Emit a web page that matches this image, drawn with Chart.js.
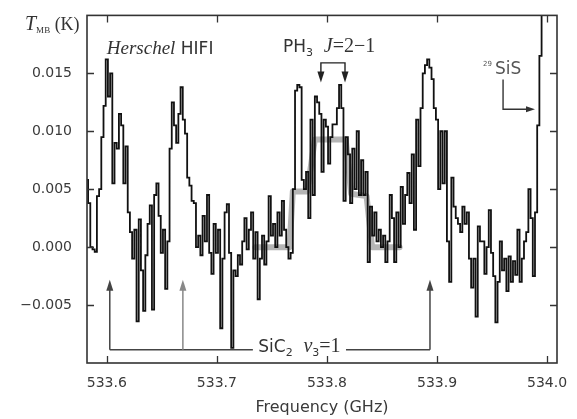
<!DOCTYPE html>
<html>
<head>
<meta charset="utf-8">
<script src="https://cdn.jsdelivr.net/npm/chart.js@4.4.1/dist/chart.umd.min.js"></script>
<style>
html, body { margin: 0; padding: 0; background: #fff; }
canvas { display: block; }
</style>
</head>
<body>
<canvas id="spec" width="577" height="419"></canvas>
<script>
// HIFI spectrum channels (GHz) and main-beam temperature (K)
const freqGHz = [
  533.582,533.584,533.586,533.588,533.590,533.592,533.594,533.596,533.598,533.600,
  533.602,533.604,533.606,533.608,533.610,533.612,533.614,533.616,533.618,533.620,
  533.622,533.624,533.626,533.628,533.630,533.632,533.634,533.636,533.638,533.640,
  533.642,533.644,533.646,533.648,533.650,533.652,533.654,533.656,533.658,533.660,
  533.662,533.664,533.666,533.668,533.670,533.672,533.674,533.676,533.678,533.680,
  533.682,533.684,533.686,533.688,533.690,533.692,533.694,533.696,533.698,533.700,
  533.702,533.704,533.706,533.708,533.710,533.712,533.714,533.716,533.718,533.720,
  533.722,533.724,533.726,533.728,533.730,533.732,533.734,533.736,533.738,533.740,
  533.742,533.744,533.746,533.748,533.750,533.752,533.754,533.756,533.758,533.760,
  533.762,533.764,533.766,533.768,533.770,533.772,533.774,533.776,533.778,533.780,
  533.782,533.784,533.786,533.788,533.790,533.792,533.794,533.796,533.798,533.800,
  533.802,533.804,533.806,533.808,533.810,533.812,533.814,533.816,533.818,533.820,
  533.822,533.824,533.826,533.828,533.830,533.832,533.834,533.836,533.838,533.840,
  533.842,533.844,533.846,533.848,533.850,533.852,533.854,533.856,533.858,533.860,
  533.862,533.864,533.866,533.868,533.870,533.872,533.874,533.876,533.878,533.880,
  533.882,533.884,533.886,533.888,533.890,533.892,533.894,533.896,533.898,533.900,
  533.902,533.904,533.906,533.908,533.910,533.912,533.914,533.916,533.918,533.920,
  533.922,533.924,533.926,533.928,533.930,533.932,533.934,533.936,533.938,533.940,
  533.942,533.944,533.946,533.948,533.950,533.952,533.954,533.956,533.958,533.960,
  533.962,533.964,533.966,533.968,533.970,533.972,533.974,533.976,533.978,533.980,
  533.982,533.984,533.986,533.988,533.990,533.992,533.994,533.996,533.998,534.000,
  534.002,534.004,534.006,534.008
];
const fluxK = [
  0.0058,0.0038,0.0000,-0.0002,-0.0004,0.0044,0.0050,0.0095,0.0122,0.0162,
  0.0130,0.0150,0.0055,0.0090,0.0085,0.0115,0.0105,0.0055,0.0087,0.0030,
  0.0013,-0.0010,0.0015,-0.0064,0.0024,-0.0020,-0.0055,-0.0007,0.0020,0.0036,
  -0.0054,0.0045,0.0055,0.0027,-0.0005,0.0015,-0.0036,0.0005,0.0085,0.0125,
  0.0105,0.0090,0.0115,0.0138,0.0110,0.0098,0.0060,0.0053,0.0040,0.0038,
  0.0000,0.0010,-0.0007,0.0027,0.0005,0.0045,-0.0005,-0.0023,0.0020,-0.0005,
  0.0015,-0.0070,-0.0010,0.0030,0.0037,-0.0005,-0.0087,-0.0020,-0.0025,-0.0007,
  -0.0015,0.0005,0.0025,-0.0002,0.0015,0.0030,-0.0010,0.0013,-0.0045,-0.0010,
  0.0010,-0.0015,0.0005,0.0044,0.0010,0.0020,0.0000,0.0030,0.0010,0.0040,
  0.0015,0.0000,-0.0010,-0.0005,0.0050,0.0135,0.0140,0.0138,0.0058,0.0050,
  0.0065,0.0025,0.0110,0.0045,0.0130,0.0125,0.0115,0.0065,0.0110,0.0104,
  0.0072,0.0095,0.0106,0.0106,0.0120,0.0140,0.0120,0.0040,0.0095,0.0080,
  0.0038,0.0085,0.0050,0.0100,0.0045,0.0075,0.0045,0.0065,-0.0013,0.0035,
  0.0010,0.0030,0.0005,0.0015,0.0000,0.0010,-0.0013,0.0005,0.0045,0.0025,
  -0.0013,0.0030,0.0000,0.0052,0.0020,0.0045,0.0064,0.0038,0.0080,0.0015,
  0.0110,0.0070,0.0120,0.0150,0.0157,0.0162,0.0155,0.0145,0.0120,0.0110,
  0.0050,0.0100,0.0055,0.0100,0.0005,-0.0030,0.0060,0.0035,0.0025,0.0020,
  0.0013,0.0035,0.0020,0.0030,-0.0010,-0.0035,-0.0010,-0.0060,0.0018,0.0005,
  0.0005,-0.0023,0.0000,0.0032,-0.0005,-0.0025,-0.0065,-0.0030,0.0005,-0.0020,
  -0.0010,-0.0038,-0.0008,-0.0030,-0.0012,-0.0024,0.0015,-0.0030,-0.0010,0.0005,
  0.0013,0.0050,0.0025,-0.0025,0.0030,0.0105,0.0165,0.0220,0.0250,0.0270,
  0.0280,0.0290,0.0300,0.0300
];

// PH3 line model (grey)
const modelFreq = [533.735, 533.766, 533.769, 533.782, 533.789, 533.817, 533.822, 533.836, 533.841, 533.866];
const modelFlux = [0, 0, 0.0048, 0.0048, 0.0093, 0.0093, 0.0046, 0.0044, 0, 0];

const xTicks = [533.6, 533.7, 533.8, 533.9, 534.0];
const yTicks = [-0.005, 0, 0.005, 0.010, 0.015];

// line identifications (GHz)
const ph3Lines = [533.7945, 533.8164];
const sic2Lines = [533.6027, 533.6691, 533.8936];
const sisLine = 533.989;

const SERIF = '"Liberation Serif", serif';
const SANS = '"DejaVu Sans", sans-serif';
const INK = '#333';

function richText(ctx, x, y, parts, align) {
    let w = 0;
    parts.forEach(p => { ctx.font = p[1]; w += ctx.measureText(p[0]).width; });
    let cx = align === 'center' ? x - w / 2 : x;
    parts.forEach(p => {
        ctx.font = p[1];
        ctx.fillStyle = p[3] || INK;
        ctx.fillText(p[0], cx, y + (p[2] || 0));
        cx += ctx.measureText(p[0]).width;
    });
}

function arrowHead(ctx, x, y, dir, len, half) {
    ctx.beginPath();
    ctx.moveTo(x, y);
    if (dir === 'down') { ctx.lineTo(x - half, y - len); ctx.lineTo(x + half, y - len); }
    if (dir === 'up') { ctx.lineTo(x - half, y + len); ctx.lineTo(x + half, y + len); }
    if (dir === 'right') { ctx.lineTo(x - len, y - half); ctx.lineTo(x - len, y + half); }
    ctx.closePath();
    ctx.fill();
}

const decorations = {
    id: 'decorations',
    afterDraw(chart) {
        const ctx = chart.ctx;
        const xs = chart.scales.x, ys = chart.scales.y;
        const a = chart.chartArea;
        ctx.save();
        ctx.textAlign = 'left';
        ctx.textBaseline = 'alphabetic';

        // frame and inward ticks
        ctx.strokeStyle = INK;
        ctx.lineWidth = 1.6;
        ctx.strokeRect(a.left, a.top, a.right - a.left, a.bottom - a.top);
        ctx.lineWidth = 1.3;
        ctx.beginPath();
        xTicks.forEach(t => {
            const px = Math.round(xs.getPixelForValue(t)) + 0.5;
            ctx.moveTo(px, a.bottom); ctx.lineTo(px, a.bottom - 7);
            ctx.moveTo(px, a.top); ctx.lineTo(px, a.top + 7);
        });
        yTicks.forEach(t => {
            const py = Math.round(ys.getPixelForValue(t)) + 0.5;
            ctx.moveTo(a.left, py); ctx.lineTo(a.left + 7, py);
            ctx.moveTo(a.right, py); ctx.lineTo(a.right - 7, py);
        });
        ctx.stroke();

        // y axis label
        richText(ctx, a.left - 62, a.top + 15, [
            ['T', 'italic 20px ' + SERIF],
            ['MB', '9px ' + SERIF, 3],
            [' (K)', '18px ' + SERIF]
        ]);

        // Herschel HIFI
        richText(ctx, xs.getPixelForValue(533.600), ys.getPixelForValue(0.01668), [
            ['Herschel', 'italic 19px ' + SERIF],
            [' HIFI', '17px ' + SANS]
        ]);

        // PH3 J=2-1 label and bracket
        richText(ctx, xs.getPixelForValue(533.760), ys.getPixelForValue(0.01685), [
            ['PH', '17px ' + SANS],
            ['3', '11px ' + SANS, 4],
            ['  ', '17px ' + SANS],
            ['J', 'italic 20px ' + SERIF],
            ['=2\u22121', '20px ' + SERIF]
        ]);
        const p1 = xs.getPixelForValue(ph3Lines[0]), p2 = xs.getPixelForValue(ph3Lines[1]);
        const barY = ys.getPixelForValue(0.0159), tipY = ys.getPixelForValue(0.0142);
        ctx.strokeStyle = '#222';
        ctx.fillStyle = '#222';
        ctx.lineWidth = 1.4;
        ctx.beginPath();
        ctx.moveTo(p1, tipY - 8); ctx.lineTo(p1, barY); ctx.lineTo(p2, barY); ctx.lineTo(p2, tipY - 8);
        ctx.stroke();
        arrowHead(ctx, p1, tipY, 'down', 11, 3.5);
        arrowHead(ctx, p2, tipY, 'down', 11, 3.5);

        // 29SiS
        const sx = xs.getPixelForValue(533.9527), sy = ys.getPixelForValue(0.0149);
        richText(ctx, sx - 12, sy - 8, [['29', '7px ' + SANS, 0, '#555']]);
        richText(ctx, sx, sy, [['SiS', '17px ' + SANS, 0, '#555']]);
        const cx = xs.getPixelForValue(533.96);
        const cTop = ys.getPixelForValue(0.01447), cY = ys.getPixelForValue(0.0119);
        const sTip = xs.getPixelForValue(sisLine);
        ctx.strokeStyle = '#333';
        ctx.fillStyle = '#333';
        ctx.beginPath();
        ctx.moveTo(cx, cTop); ctx.lineTo(cx, cY); ctx.lineTo(sTip - 7, cY);
        ctx.stroke();
        arrowHead(ctx, sTip, cY, 'right', 9, 3);

        // SiC2 v3=1 markers
        const baseY = ys.getPixelForValue(-0.00885), upY = ys.getPixelForValue(-0.00281);
        const gapL = xs.getPixelForValue(533.7327), gapR = xs.getPixelForValue(533.8173);
        const s0 = xs.getPixelForValue(sic2Lines[0]), s2 = xs.getPixelForValue(sic2Lines[2]);
        ctx.strokeStyle = '#444';
        ctx.lineWidth = 1.5;
        ctx.beginPath();
        ctx.moveTo(s0, baseY); ctx.lineTo(gapL, baseY);
        ctx.moveTo(gapR, baseY); ctx.lineTo(s2, baseY);
        ctx.stroke();
        sic2Lines.forEach((f, i) => {
            const px = xs.getPixelForValue(f);
            const col = i === 1 ? '#888' : '#444';
            ctx.strokeStyle = col;
            ctx.fillStyle = col;
            ctx.beginPath();
            ctx.moveTo(px, baseY); ctx.lineTo(px, upY + 8);
            ctx.stroke();
            arrowHead(ctx, px, upY, 'up', 11, 3.5);
        });
        richText(ctx, (gapL + gapR) / 2, ys.getPixelForValue(-0.00902), [
            ['SiC', '17px ' + SANS],
            ['2', '11px ' + SANS, 4],
            ['  ', '17px ' + SANS],
            ['\u03bd', 'italic 20px ' + SERIF],
            ['3', '11px ' + SANS, 4],
            ['=1', '20px ' + SERIF]
        ], 'center');

        ctx.restore();
    }
};

new Chart(document.getElementById('spec'), {
    type: 'line',
    data: {
        datasets: [{
            label: 'HIFI spectrum',
            data: freqGHz.map((f, i) => ({ x: f, y: fluxK[i] })),
            stepped: 'middle',
            borderColor: '#111',
            borderWidth: 1.8,
            pointRadius: 0,
            fill: false
        }, {
            label: 'PH3 model',
            data: modelFreq.map((f, i) => ({ x: f, y: modelFlux[i] })),
            borderColor: 'rgba(150,150,150,0.7)',
            borderWidth: 6,
            borderCapStyle: 'round',
            borderJoinStyle: 'round',
            pointRadius: 0,
            fill: false
        }]
    },
    options: {
        responsive: false,
        animation: false,
        devicePixelRatio: 1,
        layout: { padding: { top: 11, right: 20, bottom: 0, left: 0 } },
        plugins: { legend: { display: false }, tooltip: { enabled: false } },
        scales: {
            x: {
                type: 'linear',
                min: 533.582,
                max: 534.009,
                grid: { display: false },
                border: { display: false },
                afterBuildTicks: s => { s.ticks = xTicks.map(v => ({ value: v })); },
                afterFit: s => { s.height = 56; },
                ticks: {
                    padding: 4,
                    color: '#3a3a3a',
                    font: { family: 'DejaVu Sans', size: 14 },
                    callback: v => v.toFixed(1)
                },
                title: {
                    display: true,
                    text: 'Frequency (GHz)',
                    color: '#3a3a3a',
                    font: { family: 'DejaVu Sans', size: 16 },
                    padding: { top: 0, bottom: 2 }
                }
            },
            y: {
                min: -0.01,
                max: 0.02,
                grid: { display: false },
                border: { display: false },
                afterBuildTicks: s => { s.ticks = yTicks.map(v => ({ value: v })); },
                afterFit: s => { s.width = 87; },
                ticks: {
                    padding: 7,
                    color: '#3a3a3a',
                    font: { family: 'DejaVu Sans', size: 14 },
                    callback: v => (v < 0 ? '\u2212' : '') + Math.abs(v).toFixed(3)
                }
            }
        }
    },
    plugins: [decorations]
});
</script>
</body>
</html>
